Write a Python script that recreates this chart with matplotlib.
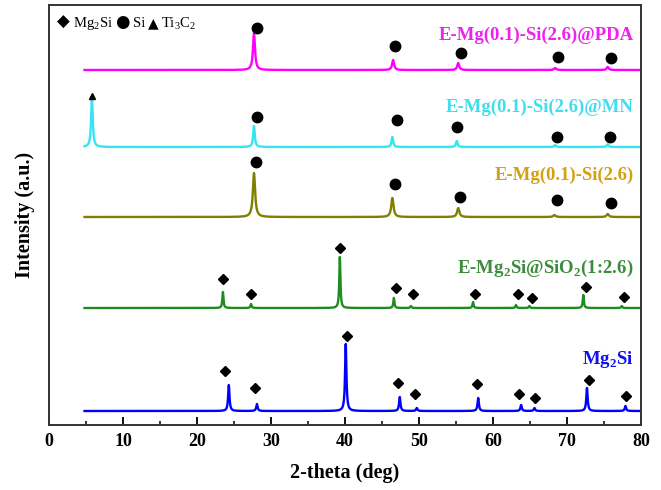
import numpy as np
import matplotlib
matplotlib.use('Agg')
import matplotlib.pyplot as plt
from matplotlib.ticker import MultipleLocator
from matplotlib.offsetbox import TextArea, HPacker, AnchoredOffsetbox

plt.rcParams['font.family'] = ['Liberation Serif', 'DejaVu Sans']
plt.rcParams['mathtext.fontset'] = 'custom'
plt.rcParams['mathtext.rm'] = 'Liberation Serif'
plt.rcParams['mathtext.bf'] = 'Liberation Serif:bold'

# ---- data (peak position, peak height), per trace ----
names = ['Mg2Si', 'E-Mg2Si@SiO2', 'E-Mg-Si', 'E-Mg-Si@MN', 'E-Mg-Si@PDA']
labels = [r'Mg$_\mathbf{2}$Si',
          r'E-Mg$_\mathbf{2}$Si@SiO$_\mathbf{2}$(1:2.6)',
          'E-Mg(0.1)-Si(2.6)',
          'E-Mg(0.1)-Si(2.6)@MN',
          'E-Mg(0.1)-Si(2.6)@PDA']
offsets = [14, 117, 208, 278, 355]

pos_mg2si = [24.3, 28.1, 40.1, 47.4, 49.7, 58.0, 63.8, 65.6, 72.7, 77.9]
hgt_mg2si = [26, 7, 67, 14, 3, 13, 6, 3, 23, 5]

pos_sio2 = [23.5, 27.3, 39.3, 46.6, 48.9, 57.3, 63.1, 64.9, 72.2, 77.4]
hgt_sio2 = [16, 4, 51, 10, 2, 6, 3, 2, 13, 2]

pos_si = [27.7, 46.4, 55.3, 68.3, 75.5]
hgt_si = [44, 19, 9, 2, 3]

pos_mn = [5.8, 27.7, 46.4, 55.1, 68.4, 75.5]
hgt_mn = [50, 21, 10, 6, 2, 3]

pos_pda = [27.7, 46.5, 55.3, 68.4, 75.5]
hgt_pda = [37, 10, 7, 2, 3]

peaks = [(pos_mg2si, hgt_mg2si, 0.11), (pos_sio2, hgt_sio2, 0.09),
         (pos_si, hgt_si, 0.18), (pos_mn, hgt_mn, 0.13), (pos_pda, hgt_pda, 0.16)]

# phase markers: (x, y) above each trace
mk_mg2si_x = [23.8, 27.8, 40.3, 47.2, 49.5, 57.9, 63.5, 65.7, 73.0, 78.0]
mk_mg2si_y = [54, 37, 89, 42, 31, 41, 31, 27, 45, 29]
mk_sio2_x = [23.5, 27.3, 39.3, 46.9, 49.2, 57.5, 63.4, 65.3, 72.5, 77.7]
mk_sio2_y = [146, 131, 177, 137, 131, 131, 131, 127, 138, 128]
mk_si_x = [28.0, 46.8, 55.6, 68.6, 75.9]
mk_si_y = [263, 241, 228, 225, 222]
mk_mn_x = [28.1, 47.0, 55.2, 68.6, 75.8]
mk_mn_y = [308, 305, 298, 288, 288]
mk_ti_x = [5.8]
mk_ti_y = [329]
mk_pda_x = [28.1, 46.7, 55.7, 68.8, 76.0]
mk_pda_y = [397, 379, 372, 368, 367]

line_colors = ['#0000FF', '#1E8C1E', '#808000', '#33E6F2', '#FF00FF']
text_colors = ['#1010EE', '#3C8C3C', '#D4A010', '#40DDEE', '#EE22EE']
text_y = [65, 157, 250, 318, 390]

x = np.arange(4.8, 80.0, 0.02)

fig = plt.figure(figsize=(6.61, 4.90), dpi=100)
ax = fig.add_axes([49 / 661, 65 / 490, 592 / 661, 420 / 490])

for i in range(5):
    p, h, w = peaks[i]
    y = np.zeros_like(x)
    for xc, hc in zip(p, h):
        y += hc * w ** 2 / ((x - xc) ** 2 + w ** 2)
    ax.plot(x, y + offsets[i], color=line_colors[i], lw=1.7)
    ax.text(79, text_y[i], labels[i], color=text_colors[i], fontsize=13.5,
            fontweight='bold', ha='right', va='center')

ax.plot(mk_mg2si_x, mk_mg2si_y, 'kD', ms=5.5, ls='none')
ax.plot(mk_sio2_x, mk_sio2_y, 'kD', ms=5.5, ls='none')
ax.plot(mk_si_x, mk_si_y, 'ko', ms=7.5, ls='none')
ax.plot(mk_mn_x, mk_mn_y, 'ko', ms=7.5, ls='none')
ax.plot(mk_pda_x, mk_pda_y, 'ko', ms=7.5, ls='none')
ax.plot(mk_ti_x, mk_ti_y, 'k^', ms=5, ls='none')

# symbol key, top left
txt = dict(fontsize=10.5, family='Liberation Serif')
key = HPacker(children=[TextArea('◆', textprops=dict(fontsize=12, family='DejaVu Sans')),
                        TextArea('Mg$_2$Si', textprops=txt),
                        TextArea('●', textprops=dict(fontsize=12, family='DejaVu Sans')),
                        TextArea('Si', textprops=txt),
                        TextArea('▲', textprops=dict(fontsize=10, family='DejaVu Sans')),
                        TextArea('Ti$_3$C$_2$', textprops=txt)],
              align='baseline', pad=0, sep=2)
ax.add_artist(AnchoredOffsetbox(loc='upper left', child=key, frameon=False,
                                bbox_to_anchor=(0.0, 1.0), bbox_transform=ax.transAxes,
                                pad=0.3, borderpad=0.3))

ax.set_xlim(0, 80)
ax.set_ylim(0, 420)
ax.xaxis.set_major_locator(MultipleLocator(10))
ax.xaxis.set_minor_locator(MultipleLocator(5))
ax.tick_params(axis='x', which='major', direction='in', length=6, width=1.3,
               labelsize=13, pad=6)
ax.tick_params(axis='x', which='minor', direction='in', length=3, width=1.1)
ax.set_yticks([])
for lbl in ax.get_xticklabels():
    lbl.set_fontweight('bold')
for s in ax.spines.values():
    s.set_linewidth(1.4)
    s.set_color('#333333')

ax.set_xlabel('2-theta (deg)', fontsize=14.5, fontweight='bold', labelpad=9)
ax.set_ylabel('Intensity (a.u.)', fontsize=14.5, fontweight='bold', labelpad=10)

fig.savefig('out.png', dpi=100)
